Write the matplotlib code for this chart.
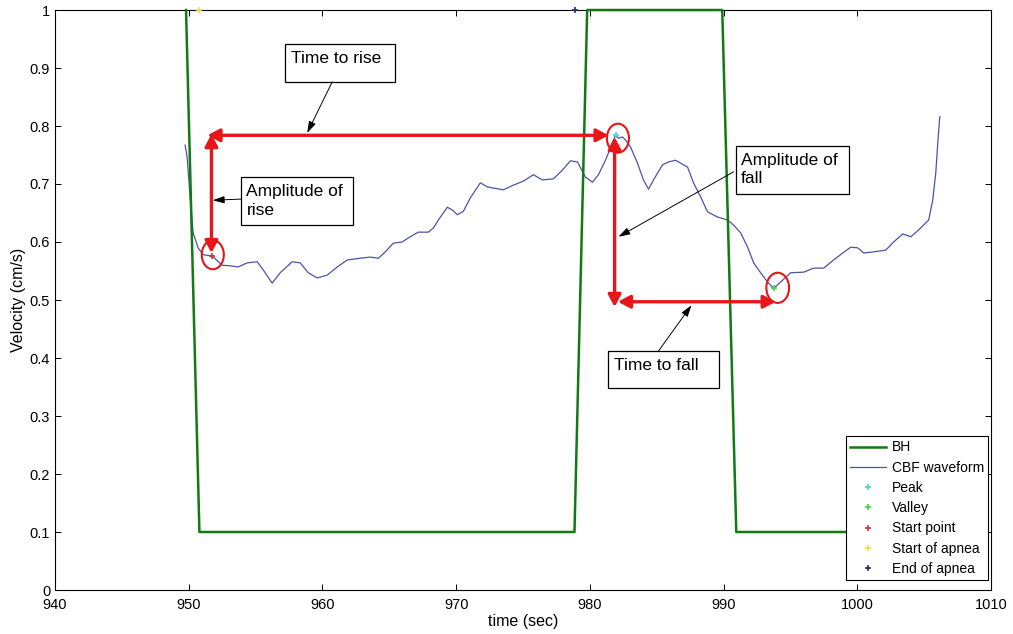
import matplotlib
matplotlib.use("Agg")
import matplotlib.pyplot as plt
from matplotlib.patches import Ellipse, Rectangle
import numpy as np

plt.rcParams['font.family'] = ['Liberation Sans', 'DejaVu Sans']

# breath-hold (BH) square wave
bh_t = [949.8, 950.8, 978.85, 979.8, 989.9, 990.95, 1006.1]
bh_v = [1.0, 0.1, 0.1, 1.0, 1.0, 0.1, 0.1]

# CBF velocity waveform
cbf_t = [949.73, 949.88, 950.10, 950.33, 950.70, 951.08, 951.75, 952.50, 953.10,
         953.70, 954.37, 955.12, 955.57, 956.24, 956.84, 957.74, 958.34, 958.94,
         959.61, 960.36, 961.11, 961.86, 962.83, 963.58, 964.18, 964.70, 965.30,
         965.97, 966.42, 967.17, 967.92, 968.29, 968.82, 969.34, 969.72, 970.09,
         970.54, 971.06, 971.81, 972.34, 972.78, 973.53, 974.28, 975.03, 975.78,
         976.45, 977.28, 977.95, 978.55, 979.07, 979.67, 980.19, 980.64, 981.17,
         981.69, 981.92, 982.14, 982.44, 982.66, 983.04, 983.56, 984.01, 984.39,
         984.76, 985.43, 985.88, 986.41, 986.78, 987.31, 987.75, 988.28, 988.80,
         989.55, 990.30, 990.75, 991.27, 991.80, 992.25, 992.77, 993.29, 993.74,
         994.27, 995.01, 995.99, 996.74, 997.49, 998.23, 998.91, 999.51, 1000.03,
         1000.48, 1001.23, 1002.13, 1002.72, 1003.40, 1004.00, 1004.60, 1005.34,
         1005.64, 1005.87, 1006.02, 1006.17]
cbf_v = [0.767, 0.747, 0.678, 0.616, 0.590, 0.578, 0.576, 0.560, 0.559,
         0.557, 0.564, 0.566, 0.552, 0.529, 0.547, 0.566, 0.564, 0.547,
         0.538, 0.543, 0.557, 0.569, 0.572, 0.574, 0.572, 0.583, 0.598,
         0.600, 0.607, 0.617, 0.617, 0.624, 0.643, 0.660, 0.655, 0.647,
         0.653, 0.676, 0.702, 0.695, 0.693, 0.690, 0.698, 0.705, 0.716,
         0.707, 0.709, 0.724, 0.740, 0.738, 0.712, 0.703, 0.716, 0.741,
         0.771, 0.784, 0.779, 0.781, 0.776, 0.764, 0.736, 0.707, 0.691,
         0.707, 0.733, 0.738, 0.741, 0.736, 0.729, 0.702, 0.678, 0.652,
         0.643, 0.638, 0.629, 0.616, 0.591, 0.564, 0.547, 0.531, 0.520,
         0.531, 0.547, 0.548, 0.555, 0.555, 0.569, 0.581, 0.591, 0.590,
         0.581, 0.583, 0.586, 0.600, 0.614, 0.609, 0.621, 0.638,
         0.672, 0.719, 0.771, 0.816]

# detected points (time, velocity)
peak = (981.92, 0.784)
valley = (993.74, 0.520)
start_pt = (951.75, 0.576)
apnea_start = (950.8, 1.0)
apnea_end = (978.9, 1.0)

fig = plt.figure(figsize=(10.13, 6.34), dpi=100)
ax = fig.add_axes([55 / 1013, 44 / 634, 936 / 1013, 580 / 634])

ax.plot(bh_t, bh_v, color='#127a12', lw=1.8, label='BH', clip_on=False, zorder=3)
ax.plot(cbf_t, cbf_v, color='#4d52a8', lw=0.9, label='CBF waveform', zorder=2)
ms = 5
ax.plot(*peak, '+', color='#3fd8e0', ms=ms, mew=1.2, label='Peak', zorder=4)
ax.plot(*valley, '+', color='#3ed83e', ms=ms, mew=1.2, label='Valley', zorder=4)
ax.plot(*start_pt, '+', color='#d83030', ms=ms, mew=1.2, label='Start point', zorder=4)
ax.plot(*apnea_start, '+', color='#f0e040', ms=ms, mew=1.2, label='Start of apnea',
        clip_on=False, zorder=4)
ax.plot(*apnea_end, '+', color='#20306a', ms=ms, mew=1.2, label='End of apnea',
        clip_on=False, zorder=4)

# circles around detected points
for (cx, cy), w, h in [((951.8, 0.578), 1.65, 0.050),
                       ((982.1, 0.779), 1.65, 0.050),
                       ((994.05, 0.521), 1.7, 0.052)]:
    ax.add_patch(Ellipse((cx, cy), w, h, fill=False, ec='#e01818', lw=1.5, zorder=5))

# red double arrows for the measured quantities
red = dict(arrowstyle='<|-|>,head_length=0.6,head_width=0.32', color='#e8161b',
           lw=2.4, shrinkA=0, shrinkB=0, mutation_scale=12)
ax.annotate('', xy=(981.4, 0.784), xytext=(951.4, 0.784), arrowprops=red, zorder=6)
ax.annotate('', xy=(951.7, 0.581), xytext=(951.7, 0.786), arrowprops=red, zorder=6)
ax.annotate('', xy=(981.85, 0.488), xytext=(981.85, 0.781), arrowprops=red, zorder=6)
ax.annotate('', xy=(993.9, 0.497), xytext=(982.1, 0.497), arrowprops=red, zorder=6)

# text boxes with thin pointer arrows
thin = dict(arrowstyle='-|>,head_length=0.7,head_width=0.22', color='black',
            lw=0.7, shrinkA=0, shrinkB=0, mutation_scale=10)
boxes = [
    ("Time to rise", (957.22, 0.876, 8.23, 0.065), (960.73, 0.876), (958.86, 0.788)),
    ("Amplitude of\nrise", (953.92, 0.629, 8.39, 0.083), (953.92, 0.674), (951.80, 0.672)),
    ("Amplitude of\nfall", (990.90, 0.683, 8.46, 0.083), (990.75, 0.721), (982.14, 0.609)),
    ("Time to fall", (981.39, 0.348, 8.24, 0.064), (985.13, 0.412), (987.6, 0.491)),
]
for label, (bx, by, bw, bh), tail, tip in boxes:
    ax.add_patch(Rectangle((bx, by), bw, bh, fc='white', ec='black', lw=0.9, zorder=7))
    ax.text(bx + 0.4, by + bh - 0.012, label, fontsize=12.5, va='top', ha='left',
            linespacing=1.3, zorder=8)
    ax.annotate('', xy=tip, xytext=tail, arrowprops=thin, zorder=7)

ax.set_xlim(940, 1010)
ax.set_ylim(0, 1)
ax.set_xticks(np.arange(940, 1011, 10))
ax.set_yticks(np.arange(0, 1.01, 0.1))
ax.set_yticklabels(['0', '0.1', '0.2', '0.3', '0.4', '0.5', '0.6', '0.7', '0.8', '0.9', '1'])
ax.tick_params(direction='in', length=4, width=0.7, top=True, right=True, labelsize=10.5)
ax.tick_params(axis='x', pad=6)
for s in ax.spines.values():
    s.set_linewidth(0.8)
ax.set_xlabel('time (sec)', fontsize=11.5, labelpad=1)
ax.set_ylabel('Velocity (cm/s)', fontsize=11.5, labelpad=3)

leg = ax.legend(loc='lower right', bbox_to_anchor=(0.997, 0.017), borderaxespad=0,
                fontsize=10, fancybox=False, framealpha=1, edgecolor='black',
                handlelength=2.6, handletextpad=0.4, labelspacing=0.45, borderpad=0.3)
leg.get_frame().set_linewidth(0.8)

fig.savefig('out.png', dpi=100)
